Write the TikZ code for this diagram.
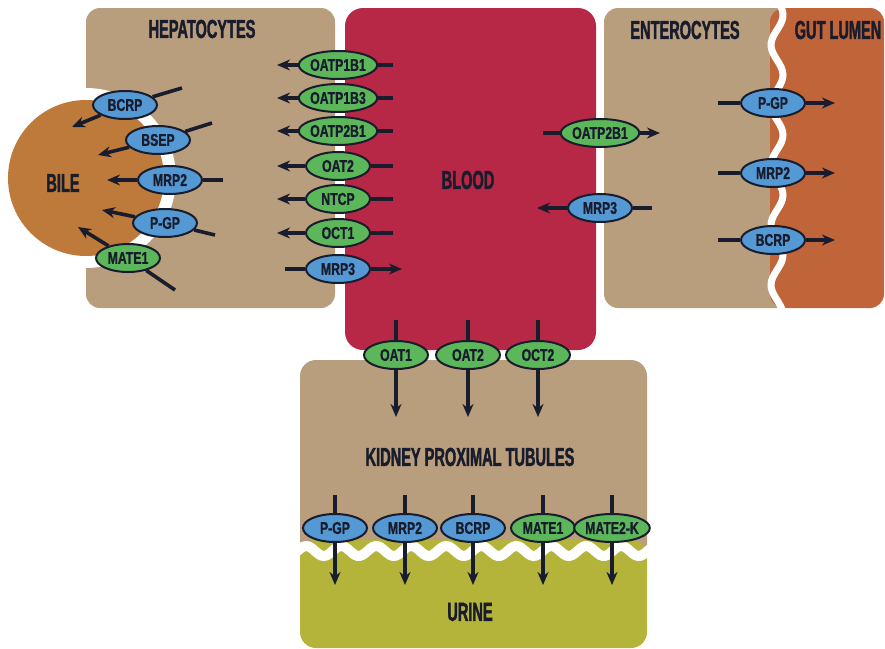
\documentclass[tikz,border=0pt]{standalone}
\usepackage{fontspec}
\setmainfont{Liberation Sans}
\newfontfamily\titlefont{Liberation Sans Bold}[FakeStretch=0.56, FakeBold=1.5]
\newfontfamily\tagfont{Liberation Sans Bold}[FakeStretch=0.72, FakeBold=1]
\usetikzlibrary{arrows.meta, shapes.geometric}

\definecolor{tan}{RGB}{185,158,125}
\definecolor{blood}{RGB}{182,40,70}
\definecolor{bile}{RGB}{190,122,58}
\definecolor{gut}{RGB}{192,100,58}
\definecolor{urine}{RGB}{181,180,58}
\definecolor{slcgreen}{RGB}{92,182,90}
\definecolor{abcblue}{RGB}{84,152,212}
\definecolor{ink}{RGB}{24,28,44}

\begin{document}
\begin{tikzpicture}[x=1pt, y=-1pt,
    tname/.style={font=\titlefont\fontsize{26}{26}\selectfont, text=ink},
    carrier/.style={ellipse, draw=ink, line width=2pt, minimum width=64pt, minimum height=28pt,
        inner sep=0pt, font=\tagfont\fontsize{17}{17}\selectfont, text=ink},
    uptake/.style={carrier, fill=slcgreen},
    efflux/.style={carrier, fill=abcblue}]
\useasboundingbox (0,0) rectangle (885,648);

% compartments
\fill[tan, rounded corners=14pt] (86,8) rectangle (335,308);
\fill[white] (86,178) circle (90pt);
\fill[bile] (86,178) circle (78pt);
\fill[blood, rounded corners=18pt] (345,8) rectangle (596,350);
\fill[tan, rounded corners=14pt] (604,8) rectangle (790,308);
\fill[gut, rounded corners=14pt] (770,8) rectangle (884,308);
\draw[white, line width=7pt] plot[domain=0:316, samples=90, smooth] ({777+6*sin(6*\x)}, \x);
\fill[tan, rounded corners=16pt] (300,360) rectangle (647,565);
\fill[urine, rounded corners=16pt] (300,540) rectangle (647,648);
\draw[white, line width=10pt] plot[domain=296:651, samples=140, smooth] (\x, {551+5*sin(10.2857*\x)});

\node[tname] (hep) at (202,29) {HEPATOCYTES};
\node[tname] (bld) at (468,180) {BLOOD};
\node[tname] (ent) at (685,30) {ENTEROCYTES};
\node[tname] (lum) at (838,30) {GUT LUMEN};
\node[tname] (bil) at (63,183) {BILE};
\node[tname] (kid) at (470,457) {KIDNEY PROXIMAL TUBULES};
\node[tname] (uri) at (470,612) {URINE};

% free ends of the connectors
\coordinate (s1) at (393,65);  \coordinate (e1) at (277,65);
\coordinate (s2) at (393,98);  \coordinate (e2) at (277,98);
\coordinate (s3) at (393,131); \coordinate (e3) at (277,131);
\coordinate (s4) at (393,166); \coordinate (e4) at (277,166);
\coordinate (s5) at (393,199); \coordinate (e5) at (277,199);
\coordinate (s6) at (393,233); \coordinate (e6) at (277,233);
\coordinate (s7) at (285,269); \coordinate (e7) at (402,269);
\coordinate (s8) at (543,133); \coordinate (e8) at (660,133);
\coordinate (s9) at (652,208); \coordinate (e9) at (537,208);
\coordinate (sa) at (718,103); \coordinate (ea) at (835,103);
\coordinate (sb) at (718,173); \coordinate (eb) at (835,173);
\coordinate (sc) at (718,240); \coordinate (ec) at (835,240);
\coordinate (sd) at (182,88);  \coordinate (ed) at (72,127);
\coordinate (se) at (212,123); \coordinate (ee) at (98,155);
\coordinate (sf) at (223,180); \coordinate (ef) at (107,180);
\coordinate (sg) at (215,235); \coordinate (eg) at (102,210);
\coordinate (sh) at (175,290); \coordinate (eh) at (78,227);
\coordinate (si) at (396,320); \coordinate (ei) at (396,417);
\coordinate (sj) at (468,320); \coordinate (ej) at (468,417);
\coordinate (sk) at (538,320); \coordinate (ek) at (538,417);
\coordinate (sl) at (335,495); \coordinate (el) at (335,585);
\coordinate (sm) at (405,495); \coordinate (em) at (405,585);
\coordinate (sn) at (473,495); \coordinate (en) at (473,585);
\coordinate (so) at (543,495); \coordinate (eo) at (543,585);
\coordinate (sp) at (612,495); \coordinate (ep) at (612,585);

% transporters
\begin{scope}[every node/.style={minimum width=70pt, minimum height=26pt}]
    \node (oatp1b1) at (338,65) [uptake] {OATP1B1};
    \node (oatp1b3) at (338,98) [uptake] {OATP1B3};
    \node (oatp2b1) at (338,131) [uptake] {OATP2B1};
    \node (oat2) at (338,166) [uptake] {OAT2};
    \node (ntcp) at (338,199) [uptake] {NTCP};
    \node (oct1) at (338,233) [uptake] {OCT1};
    \node (mrp3) at (338,269) [efflux] {MRP3};
\end{scope}

\node (e-oatp2b1) at (600,133) [uptake] {OATP2B1};
\node (e-mrp3) at (600,208) [efflux] {MRP3};
\node (e-pgp) at (773,103) [efflux] {P-GP};
\node (e-mrp2) at (773,173) [efflux] {MRP2};
\node (e-bcrp) at (773,240) [efflux] {BCRP};

\node (b-bcrp) at (125,105) [efflux] {BCRP};
\node (b-bsep) at (158,140) [efflux] {BSEP};
\node (b-mrp2) at (170,180) [efflux] {MRP2};
\node (b-pgp) at (165,223) [efflux] {P-GP};
\node (b-mate1) at (128,258) [uptake] {MATE1};

\node (k-oat1) at (396,355) [uptake] {OAT1};
\node (k-oat2) at (468,355) [uptake] {OAT2};
\node (k-oct2) at (538,355) [uptake] {OCT2};
\node (k-pgp) at (335,528) [efflux] {P-GP};
\node (k-mrp2) at (405,528) [efflux] {MRP2};
\node (k-bcrp) at (473,528) [efflux] {BCRP};
\node (k-mate1) at (543,528) [uptake] {MATE1};
\node (k-mate2k) at (612,528) [uptake] {MATE2-K};

\begin{scope}[>={Stealth[length=13pt, width=11pt]},
              every edge/.style={draw=ink, line width=3.6pt}]
    \path (s1) edge (oatp1b1) [->] (oatp1b1) edge (e1);
    \path (s2) edge (oatp1b3) [->] (oatp1b3) edge (e2);
    \path (s3) edge (oatp2b1) [->] (oatp2b1) edge (e3);
    \path (s4) edge (oat2) [->] (oat2) edge (e4);
    \path (s5) edge (ntcp) [->] (ntcp) edge (e5);
    \path (s6) edge (oct1) [->] (oct1) edge (e6);
    \path (s7) edge (mrp3) [->] (mrp3) edge (e7);
    \path (s8) edge (e-oatp2b1) [->] (e-oatp2b1) edge (e8);
    \path (s9) edge (e-mrp3) [->] (e-mrp3) edge (e9);
    \path (sa) edge (e-pgp) [->] (e-pgp) edge (ea);
    \path (sb) edge (e-mrp2) [->] (e-mrp2) edge (eb);
    \path (sc) edge (e-bcrp) [->] (e-bcrp) edge (ec);
    \path (sd) edge (b-bcrp) [->] (b-bcrp) edge (ed);
    \path (se) edge (b-bsep) [->] (b-bsep) edge (ee);
    \path (sf) edge (b-mrp2) [->] (b-mrp2) edge (ef);
    \path (sg) edge (b-pgp) [->] (b-pgp) edge (eg);
    \path (sh) edge (b-mate1) [->] (b-mate1) edge (eh);
    \path (si) edge (k-oat1) [->] (k-oat1) edge (ei);
    \path (sj) edge (k-oat2) [->] (k-oat2) edge (ej);
    \path (sk) edge (k-oct2) [->] (k-oct2) edge (ek);
    \path (sl) edge (k-pgp) [->] (k-pgp) edge (el);
    \path (sm) edge (k-mrp2) [->] (k-mrp2) edge (em);
    \path (sn) edge (k-bcrp) [->] (k-bcrp) edge (en);
    \path (so) edge (k-mate1) [->] (k-mate1) edge (eo);
    \path (sp) edge (k-mate2k) [->] (k-mate2k) edge (ep);
\end{scope}
\end{tikzpicture}
\end{document}
